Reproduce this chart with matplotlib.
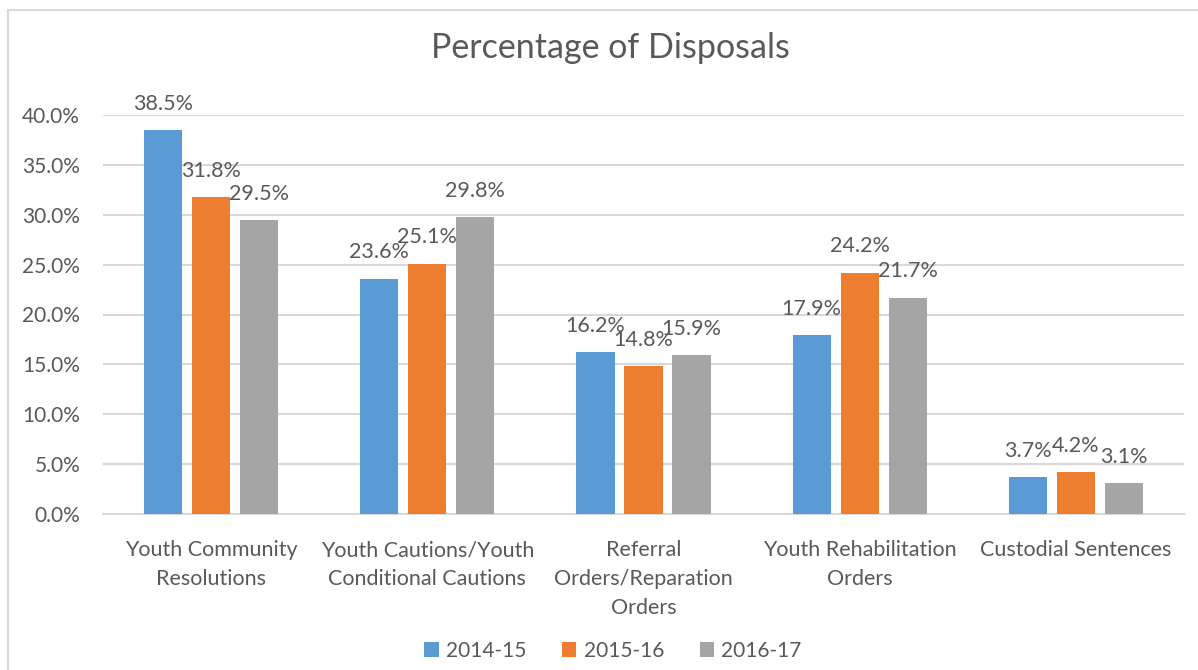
import numpy as np
import matplotlib.pyplot as plt
from matplotlib.patches import Rectangle

categorias = ["Youth Community\nResolutions",
              "Youth Cautions/Youth\nConditional Cautions",
              "Referral\nOrders/Reparation\nOrders",
              "Youth Rehabilitation\nOrders",
              "Custodial Sentences"]
series = ["2014-15", "2015-16", "2016-17"]
v_2014 = [38.5, 23.6, 16.2, 17.9, 3.7]
v_2015 = [31.8, 25.1, 14.8, 24.2, 4.2]
v_2016 = [29.5, 29.8, 15.9, 21.7, 3.1]

colores = ["#5B9BD5", "#ED7D31", "#A5A5A5"]
gris_texto = "#595959"
plt.rcParams['font.family'] = ['Lato', 'DejaVu Sans']

fig = plt.figure(figsize=(11.98, 6.70), dpi=100, facecolor="white")
ax = fig.add_axes([103/1198, 1 - 514/670, (1184 - 103)/1198, 399/670])

x = np.arange(len(categorias))
ancho = 0.176
paso = 0.222
for i, (vals, nombre) in enumerate(zip([v_2014, v_2015, v_2016], series)):
    barras = ax.bar(x + (i - 1) * paso, vals, width=ancho, color=colores[i],
                    label=nombre, zorder=3)
    for b, v in zip(barras, vals):
        ax.annotate(f"{v:.1f}%", (b.get_x() + b.get_width() / 2, v),
                    xytext=(0, 14.5), textcoords="offset points",
                    ha="center", va="baseline", fontsize=15.5,
                    color=gris_texto, annotation_clip=False, zorder=4)

ax.set_xlim(-0.5, len(categorias) - 0.5)
ax.set_ylim(0, 40)
ax.set_yticks(np.arange(0, 41, 5))
ax.set_yticklabels([f"{t:.1f}%" for t in np.arange(0, 41, 5)])
ax.set_xticks(x)
ax.set_xticklabels(categorias, linespacing=1.55)
ax.tick_params(axis="both", length=0, colors=gris_texto)
ax.tick_params(axis="y", pad=16.5, labelsize=15)
ax.tick_params(axis="x", pad=19, labelsize=15.5)
for lbl in ax.get_xticklabels():
    lbl.set_verticalalignment("top")

ax.grid(axis="y", color="#D9D9D9", linewidth=1.5, zorder=0)
for lado in ["top", "right", "left"]:
    ax.spines[lado].set_visible(False)
ax.spines["bottom"].set_color("#D9D9D9")
ax.spines["bottom"].set_linewidth(1.5)

fig.text(610/1198, 1 - 48/670, "Percentage of Disposals", ha="center",
         va="center", fontsize=24.5, color=gris_texto)

fig.legend(loc="center", bbox_to_anchor=(613/1198, 1 - 651/670), ncol=3,
           frameon=False, fontsize=15, labelcolor=gris_texto,
           handlelength=0.7, handleheight=0.7, columnspacing=1.7,
           handletextpad=0.35)

# marco del grafico
fig.patches.append(Rectangle((8/1198, -0.1), 1.2, 1 - 10/670 + 0.1,
                             transform=fig.transFigure, fill=False,
                             edgecolor="#D9D9D9", linewidth=1.5))

fig.savefig("out.png", dpi=100, facecolor="white")
